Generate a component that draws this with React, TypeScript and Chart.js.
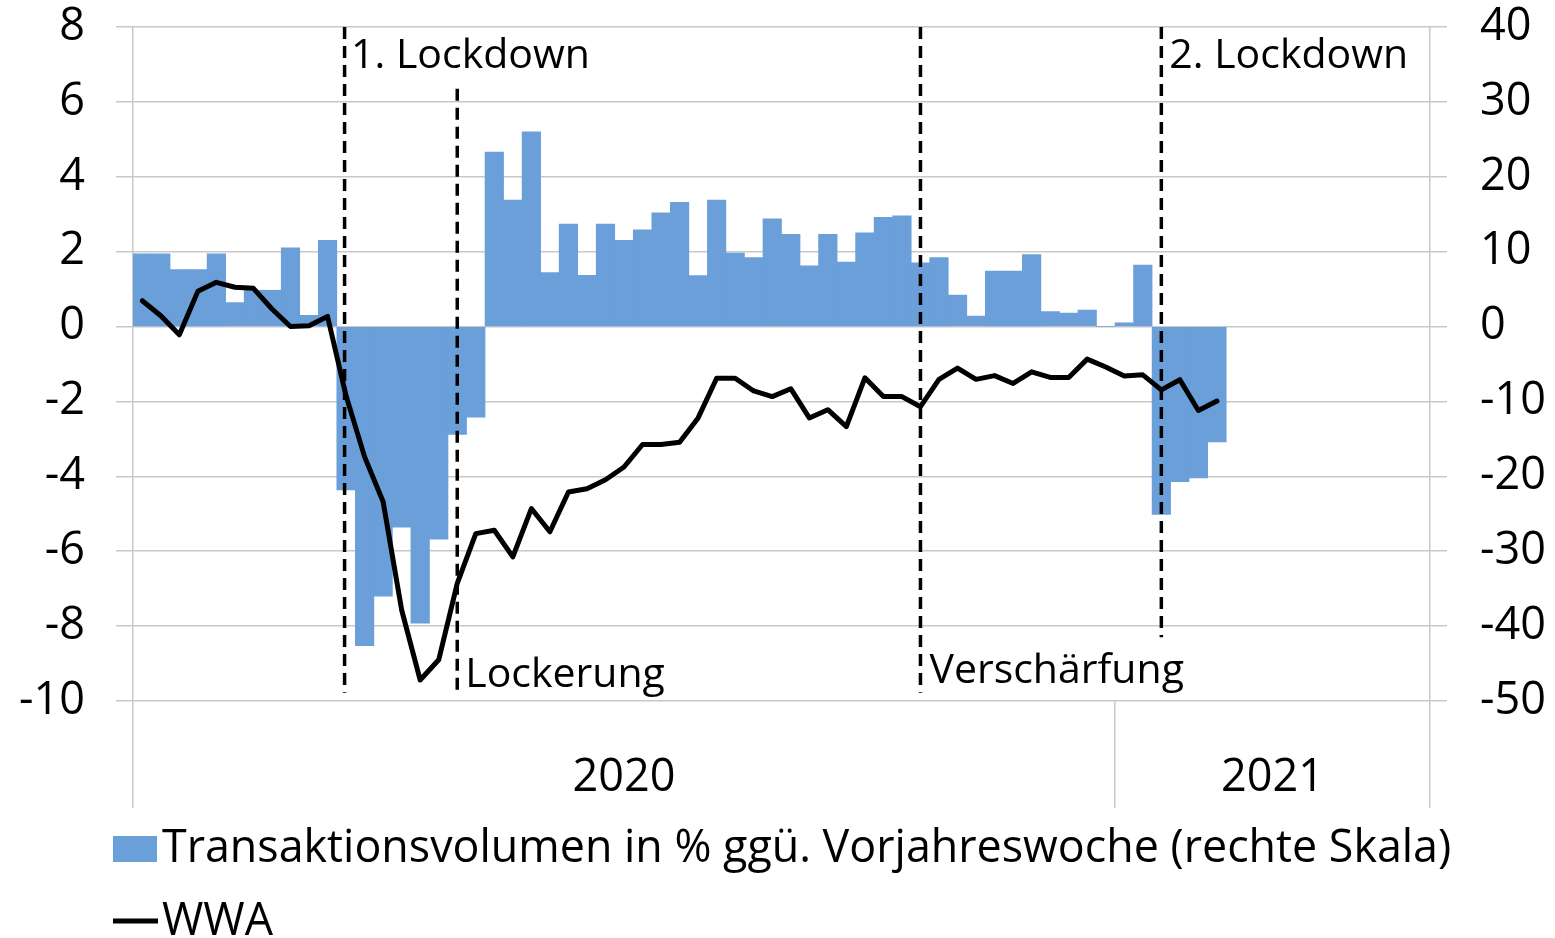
import React, { useEffect, useRef } from 'react';
import { Chart, registerables } from 'chart.js';

Chart.register(...registerables);

// Categories: calendar weeks 2020 (53) and 2021 (17)
const weeks2020 = Array.from({ length: 53 }, (_, i) => `KW ${i + 1}/2020`);
const weeks2021 = Array.from({ length: 17 }, (_, i) => `KW ${i + 1}/2021`);
const categories = [...weeks2020, ...weeks2021];

const yearLabels = ['2020', '2021'];
const yearStarts = [0, 53];

// Transaktionsvolumen in % ggü. Vorjahreswoche (rechte Skala)
const transaktionsvolumen = [
  9.7, 9.7, 7.6, 7.6, 9.7, 3.2, 4.85, 4.85, 10.5, 1.5, 11.5,
  -21.8, -42.6, -36.0, -26.8, -39.6, -28.4, -14.4, -12.1,
  23.3, 16.9, 26.0, 7.2, 13.7, 6.85, 13.7, 11.5, 12.9, 15.2, 16.6,
  6.8, 16.9, 9.8, 9.2, 14.4, 12.3, 8.1, 12.3, 8.6, 12.5, 14.6, 14.8,
  8.5, 9.2, 4.2, 1.4, 7.4, 7.4, 9.6, 2.0, 1.8, 2.2, 0, 0.5, 8.2,
  -25.1, -20.7, -20.2, -15.4,
];

// WWA (linke Skala)
const wwa = [
  0.69, 0.29, -0.22, 0.94, 1.18, 1.05, 1.02, 0.47, 0.0, 0.02, 0.27,
  -1.85, -3.48, -4.68, -7.57, -9.44, -8.9, -6.86, -5.53,
  -5.44, -6.15, -4.86, -5.48, -4.42, -4.33, -4.09, -3.75, -3.15, -3.15, -3.09,
  -2.44, -1.38, -1.38, -1.72, -1.87, -1.66, -2.44, -2.22, -2.67, -1.37, -1.87, -1.87,
  -2.14, -1.41, -1.11, -1.41, -1.31, -1.52, -1.21, -1.36, -1.36, -0.87, -1.08, -1.32, -1.29,
  -1.69, -1.42, -2.24, -1.99,
];

// Events (category index, label, dashed line extent and label baseline in left-axis units)
const eventIndex = [11, 17, 42, 55];
const eventLabels = ['1. Lockdown', 'Lockerung', 'Verschärfung', '2. Lockdown'];
const eventTop = [8, 6.35, 8, 8];
const eventBottom = [-9.78, -9.78, -9.78, -8.3];
const eventLabelY = [6.9, -9.62, -9.52, 6.9];

const leftMin = -10;
const leftMax = 8;
const leftStep = 2;
const rightMin = -50;
const rightMax = 40;
const rightStep = 10;

const FONT = 'Open Sans';
const FS_AXIS = 45;
const FS_NOTE = 41;
const FS_LEGEND = 44.8;
const GRID = '#c8c8c8';
const BAR = '#6a9fda';

const eventPlugin = {
  id: 'eventLines',
  afterDatasetsDraw(chart: any) {
    const { ctx, scales } = chart;
    const x = scales.x;
    const y = scales.y;
    ctx.save();
    ctx.strokeStyle = '#000';
    ctx.lineWidth = 3.5;
    ctx.setLineDash([12, 7]);
    eventIndex.forEach((idx, i) => {
      const px = x.getPixelForValue(idx) - (i === 0 ? 1.5 : 0);
      ctx.beginPath();
      ctx.moveTo(px, y.getPixelForValue(eventTop[i]));
      ctx.lineTo(px, y.getPixelForValue(eventBottom[i]));
      ctx.stroke();
    });
    ctx.setLineDash([]);
    ctx.font = `${FS_NOTE}px "${FONT}"`;
    ctx.fillStyle = '#000';
    ctx.textAlign = 'left';
    ctx.textBaseline = 'alphabetic';
    const offs = [5, 8, 9, 8];
    eventIndex.forEach((idx, i) => {
      ctx.fillText(eventLabels[i], x.getPixelForValue(idx) + offs[i], y.getPixelForValue(eventLabelY[i]));
    });
    ctx.restore();
  },
};

const legendPlugin = {
  id: 'customLegend',
  afterDraw(chart: any) {
    const { ctx } = chart;
    const bars = chart.data.datasets[1];
    const line = chart.data.datasets[0];
    ctx.save();
    ctx.font = `${FS_LEGEND}px "${FONT}"`;
    ctx.textAlign = 'left';
    ctx.textBaseline = 'alphabetic';
    // bar item
    ctx.fillStyle = bars.backgroundColor;
    ctx.fillRect(113, 836, 44, 26);
    ctx.fillStyle = '#000';
    ctx.fillText(bars.label, 162, 862);
    // line item
    ctx.strokeStyle = line.borderColor;
    ctx.lineWidth = 5;
    ctx.beginPath();
    ctx.moveTo(113, 921);
    ctx.lineTo(158, 921);
    ctx.stroke();
    ctx.fillText(line.label, 162, 935);
    ctx.restore();
  },
};

export default function App() {
  const ref = useRef<HTMLCanvasElement | null>(null);

  useEffect(() => {
    if (!ref.current) return;
    const yearTickIndex = yearStarts.map((s, i) => {
      const end = i + 1 < yearStarts.length ? yearStarts[i + 1] : categories.length;
      return Math.floor((s + end) / 2);
    });
    const noPad = (s: any) => {
      s.paddingTop = 0;
      s.paddingBottom = 0;
    };
    const chart = new Chart(ref.current, {
      type: 'bar',
      data: {
        labels: categories,
        datasets: [
          {
            type: 'line',
            label: 'WWA',
            data: wwa,
            yAxisID: 'y',
            borderColor: '#000',
            backgroundColor: '#000',
            borderWidth: 5,
            pointRadius: 0,
            tension: 0,
            borderJoinStyle: 'round',
            borderCapStyle: 'round',
            order: 0,
          } as any,
          {
            type: 'bar',
            label: 'Transaktionsvolumen in % ggü. Vorjahreswoche (rechte Skala)',
            data: transaktionsvolumen,
            yAxisID: 'y1',
            backgroundColor: BAR,
            barPercentage: 1,
            categoryPercentage: 1,
            order: 1,
          } as any,
        ],
      },
      options: {
        animation: false,
        responsive: true,
        maintainAspectRatio: false,
        layout: { padding: { top: 27, left: 0, right: 0, bottom: 0 } },
        font: { family: FONT, size: FS_AXIS },
        plugins: {
          legend: { display: false },
          tooltip: { enabled: false },
        },
        scales: {
          x: {
            type: 'category',
            offset: true,
            border: { display: false },
            grid: {
              offset: true,
              lineWidth: 1.5,
              tickLength: 107,
              color: (c: any) => (c.index === 0 || c.type === 'scale' ? GRID : 'rgba(0,0,0,0)'),
              tickColor: (c: any) =>
                c.index === 0 || c.index === yearStarts[1] || c.type === 'scale' ? GRID : 'rgba(0,0,0,0)',
            },
            ticks: {
              autoSkip: false,
              maxRotation: 0,
              minRotation: 0,
              padding: -57,
              color: '#000',
              font: { family: FONT, size: FS_AXIS },
              callback: (_v: any, i: number) => {
                const k = yearTickIndex.indexOf(i);
                return k >= 0 ? yearLabels[k] : '';
              },
            },
            afterFit: (s: any) => {
              s.height = 237;
              s.paddingLeft = 0;
              s.paddingRight = 0;
            },
          },
          y: {
            position: 'left',
            min: leftMin,
            max: leftMax,
            border: { display: false },
            grid: { color: GRID, lineWidth: 1.5, tickLength: 17 },
            ticks: {
              stepSize: leftStep,
              padding: 31,
              color: '#000',
              font: { family: FONT, size: FS_AXIS },
              callback: (v: any) => String(v),
            },
            afterFit: (s: any) => {
              s.width = 133;
              noPad(s);
            },
          },
          y1: {
            position: 'right',
            min: rightMin,
            max: rightMax,
            border: { display: false },
            grid: { drawOnChartArea: false, color: GRID, lineWidth: 1.5, tickLength: 17 },
            ticks: {
              stepSize: rightStep,
              padding: 33,
              color: '#000',
              font: { family: FONT, size: FS_AXIS },
              callback: (v: any) => String(v),
            },
            afterFit: (s: any) => {
              s.width = 125;
              noPad(s);
            },
          },
        },
      } as any,
      plugins: [eventPlugin, legendPlugin],
    });
    return () => chart.destroy();
  }, []);

  return (
    <div style={{ position: 'fixed', left: 0, top: 0, width: 1555, height: 938, background: '#fff' }}>
      <canvas ref={ref} />
    </div>
  );
}
